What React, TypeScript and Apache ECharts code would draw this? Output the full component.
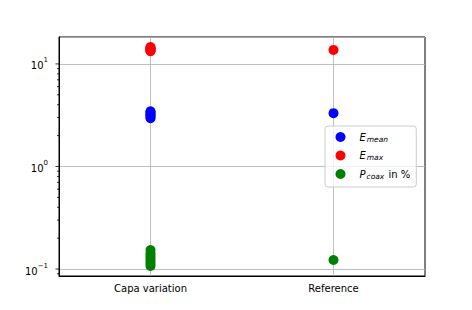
import React, { useEffect, useRef } from "react";
import * as echarts from "echarts";

const categories = ["Capa variation", "Reference"];
const capaEmean = [2.95, 3.05, 3.15, 3.25, 3.35, 3.45];
const capaEmax = [13.3, 13.5, 13.7, 13.9, 14.1, 14.3, 14.6];
const capaPcoax = [0.107, 0.113, 0.12, 0.127, 0.134, 0.142, 0.153];
const refEmean = [3.31];
const refEmax = [13.7];
const refPcoax = [0.1225];
const majorTicks = [0.1, 1, 10];
const minorTicks = [0.09, 0.2, 0.3, 0.4, 0.5, 0.6, 0.7, 0.8, 0.9, 2, 3, 4, 5, 6, 7, 8, 9];

const FONT = "DejaVu Sans";

function pts(capa: number[], ref: number[]) {
  return [...capa.map((v) => [0, v]), ...ref.map((v) => [1, v])];
}

export default function App() {
  const ref = useRef<HTMLDivElement>(null);
  useEffect(() => {
    const chart = echarts.init(ref.current!, null, { renderer: "svg" });
    const tickSeries = (vals: number[], len: number) => ({
      type: "custom",
      coordinateSystem: "cartesian2d",
      clip: false,
      silent: true,
      z: 10,
      data: vals.map((v) => [0, v]),
      encode: { x: 0, y: 1 },
      renderItem: (params: any, api: any) => {
        const cs = params.coordSys;
        const p = api.coord([0, api.value(1)]);
        return {
          type: "line",
          shape: { x1: cs.x - len, y1: p[1], x2: cs.x, y2: p[1] },
          style: { stroke: "#000", lineWidth: 0.8 },
        };
      },
    });
    const option: any = {
      animation: false,
      textStyle: { fontFamily: FONT },
      grid: {
        left: 59,
        right: 47,
        top: 37,
        bottom: 34,
        show: true,
        borderColor: "#000",
        borderWidth: 1,
        backgroundColor: "transparent",
      },
      xAxis: {
        type: "category",
        data: categories,
        boundaryGap: true,
        axisLine: { lineStyle: { color: "#000", width: 1 } },
        axisTick: { alignWithLabel: true, length: 3.5, lineStyle: { color: "#000" } },
        axisLabel: { color: "#000", fontSize: 10, fontFamily: FONT, margin: 7 },
        splitLine: { show: true, alignWithLabel: true, lineStyle: { color: "#b0b0b0", width: 0.8 } },
      },
      yAxis: {
        type: "log",
        logBase: 10,
        min: 0.0855,
        max: 18.3,
        axisLine: { show: true, lineStyle: { color: "#000", width: 1 } },
        axisTick: { show: false },
        splitLine: { show: true, lineStyle: { color: "#b0b0b0", width: 0.8 } },
        axisLabel: {
          color: "#000",
          fontFamily: FONT,
          margin: 11,
          showMinLabel: false,
          showMaxLabel: false,
          formatter: (v: number) => {
            const e = Math.log10(v);
            const r = Math.round(e);
            if (Math.abs(e - r) > 1e-6) return "";
            const s = r < 0 ? "\u2212" + Math.abs(r) : String(r);
            return "{b|10}{sup|" + s + "}";
          },
          rich: {
            b: { fontSize: 10, fontFamily: FONT, color: "#000", verticalAlign: "bottom", lineHeight: 14 },
            sup: { fontSize: 7, fontFamily: FONT, color: "#000", verticalAlign: "top", lineHeight: 14, padding: [0, 0, 0, 0] },
          },
        },
      },
      legend: {
        orient: "vertical",
        left: 325,
        top: 126,
        padding: [5, 6, 7, 10.5],
        itemGap: 6.5,
        itemWidth: 28,
        itemHeight: 10,
        icon: "circle",
        borderColor: "#cccccc",
        borderWidth: 1,
        borderRadius: 3,
        backgroundColor: "rgba(255,255,255,0.8)",
        data: ["Emean", "Emax", "Pcoax"],
        formatter: (name: string) => {
          if (name === "Emean") return "{i|E}{sub|mean}";
          if (name === "Emax") return "{i|E}{sub|max}";
          return "{i|P}{sub|coax}{n| in %}";
        },
        textStyle: {
          rich: {
            i: { fontSize: 10, fontStyle: "italic", fontFamily: FONT, color: "#000", lineHeight: 14, verticalAlign: "middle" },
            sub: { fontSize: 7.5, fontStyle: "italic", fontFamily: FONT, color: "#000", lineHeight: 8, verticalAlign: "middle", padding: [4, 1, 0, 1] },
            n: { fontSize: 10, fontFamily: FONT, color: "#000", lineHeight: 14, verticalAlign: "middle" },
          },
        },
      },
      series: [
        { name: "Emean", type: "scatter", symbol: "circle", symbolSize: 10, itemStyle: { color: "#0000ff", opacity: 1 }, data: pts(capaEmean, refEmean), z: 3 },
        { name: "Emax", type: "scatter", symbol: "circle", symbolSize: 10, itemStyle: { color: "#ff0000", opacity: 1 }, data: pts(capaEmax, refEmax), z: 3 },
        { name: "Pcoax", type: "scatter", symbol: "circle", symbolSize: 10, itemStyle: { color: "#008000", opacity: 1 }, data: pts(capaPcoax, refPcoax), z: 3 },
        tickSeries(majorTicks, 3.5),
        tickSeries(minorTicks, 2),
      ],
    };
    chart.setOption(option);
    return () => chart.dispose();
  }, []);
  return <div ref={ref} style={{ position: "fixed", left: 0, top: 0, width: 472, height: 310, background: "#fff" }} />;
}
